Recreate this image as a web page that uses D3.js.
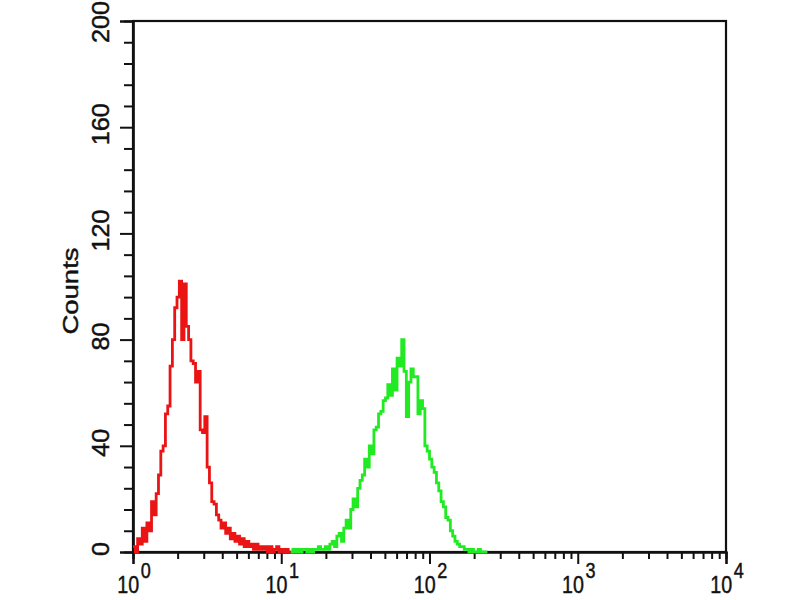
<!DOCTYPE html>
<html>
<head>
<meta charset="utf-8">
<script src="https://cdn.jsdelivr.net/npm/d3@7"></script>
<style>
  html, body { margin: 0; padding: 0; background: #fff; }
  svg { display: block; }
  text { font-family: "Liberation Sans", Arial, sans-serif; fill: #111; stroke: #111; stroke-width: 0.45; }
</style>
</head>
<body>
<svg id="chart" width="800" height="600"></svg>
<script>
// ---- data (256 log channels across 4 decades, 64 per decade) ----
const channelsPerDecade = 64;
const redStart = 0;
const redCounts = [2,0,5,3,9,4,11,8,19,14,22,29,38,40,52,55,70,80,92,96,
  102,80,101,85,80,72,71,64,68,46,45,51,32,26,19,18,14,12,9,11,
  7,9,5,7,4,6,3,5,2,4,2,3,1,3,1,2,1,2,0,2,0,1,2,0,1,0,1,0];
const greenStart = 68;
const greenCounts = [0,1,0,1,0,1,1,0,1,0,1,1,2,1,1,2,1,3,4,2,
  6,7,4,9,12,9,16,20,17,24,27,29,35,32,40,37,46,47,52,53,
  57,58,63,59,69,61,73,70,80,68,51,64,69,66,66,52,57,54,40,38,
  35,32,30,26,23,19,17,13,12,8,6,4,3,2,2,1,1,0,1,0,0,1,0,0,0];
const xTickLabels = ["0","1","2","3","4"];          // superscripts of 10
const yTickValues = [0,40,80,120,160,200];
const yLabel = "Counts";

// ---- layout ----
const svg = d3.select("#chart");
const x = d3.scaleLog().domain([1, 10000]).range([133, 726]);
const y = d3.scaleLinear().domain([0, 200]).range([552, 21]);

// frame
svg.append("rect")
  .attr("x", x(1)).attr("y", y(200))
  .attr("width", x(10000) - x(1)).attr("height", y(0) - y(200))
  .attr("fill", "none").attr("stroke", "#111").attr("stroke-width", 2.2);

// x ticks
const xMinor = [];
for (let d = 0; d < 4; d++) for (let m = 2; m <= 9; m++) xMinor.push(m * Math.pow(10, d));
const gxMinor = svg.append("g").attr("transform", `translate(0,${y(0)})`)
  .call(d3.axisBottom(x).tickValues(xMinor).tickSize(7).tickFormat(""));
const gxMajor = svg.append("g").attr("transform", `translate(0,${y(0)})`)
  .call(d3.axisBottom(x).tickValues([1,10,100,1000,10000]).tickSize(12).tickFormat(""));
[gxMinor, gxMajor].forEach(g => {
  g.select(".domain").attr("stroke", "#111").attr("stroke-width", 2.2);
  g.selectAll(".tick line").attr("stroke", "#111").attr("stroke-width", 2);
});

// y ticks
const yMinor = d3.range(0, 201, 8).filter(v => v % 40 !== 0);
const gyMinor = svg.append("g").attr("transform", `translate(${x(1)},0)`)
  .call(d3.axisLeft(y).tickValues(yMinor).tickSize(9).tickFormat(""));
const gyMajor = svg.append("g").attr("transform", `translate(${x(1)},0)`)
  .call(d3.axisLeft(y).tickValues(yTickValues).tickSize(13).tickFormat(""));
[gyMinor, gyMajor].forEach(g => {
  g.select(".domain").attr("stroke", "#111").attr("stroke-width", 2.2);
  g.selectAll(".tick line").attr("stroke", "#111").attr("stroke-width", 2);
});

// y tick labels (rotated)
svg.append("g").selectAll("text").data(yTickValues).join("text")
  .attr("transform", d => `translate(109,${Math.max(y(d) - 3, 22)}) rotate(-90) scale(1.05,1)`)
  .attr("text-anchor", "middle")
  .attr("font-size", 24)
  .text(d => d);

// y axis title
svg.append("text")
  .attr("transform", `translate(78,291) rotate(-90) scale(1.25,1)`)
  .attr("text-anchor", "middle")
  .attr("font-size", 22)
  .text(yLabel);

// x tick labels 10^n
const xl = svg.append("g").selectAll("text").data(xTickLabels).join("text")
  .attr("transform", (d, i) => `translate(${x(Math.pow(10, i)) + 1},593) scale(0.82,1)`)
  .attr("text-anchor", "middle")
  .attr("font-size", 24);
xl.append("tspan").text("10");
xl.append("tspan").attr("dx", 2).attr("dy", -15).attr("font-size", 22).text(d => d);

// histogram traces
const line = d3.line()
  .x(d => x(d[0])).y(d => y(d[1]))
  .curve(d3.curveStepAfter);

function toPoints(start, counts) {
  const pts = counts.map((c, i) => [Math.pow(10, (start + i) / channelsPerDecade), c]);
  pts.push([Math.pow(10, (start + counts.length) / channelsPerDecade), counts[counts.length - 1]]);
  return pts;
}

svg.append("path").datum(toPoints(greenStart, greenCounts))
  .attr("d", line).attr("fill", "none")
  .attr("stroke", "#22ea22").attr("stroke-width", 2.8).attr("stroke-linejoin", "miter");
svg.append("path").datum(toPoints(redStart, redCounts))
  .attr("d", line).attr("fill", "none")
  .attr("stroke", "#ea1414").attr("stroke-width", 2.8).attr("stroke-linejoin", "miter");
</script>
</body>
</html>
